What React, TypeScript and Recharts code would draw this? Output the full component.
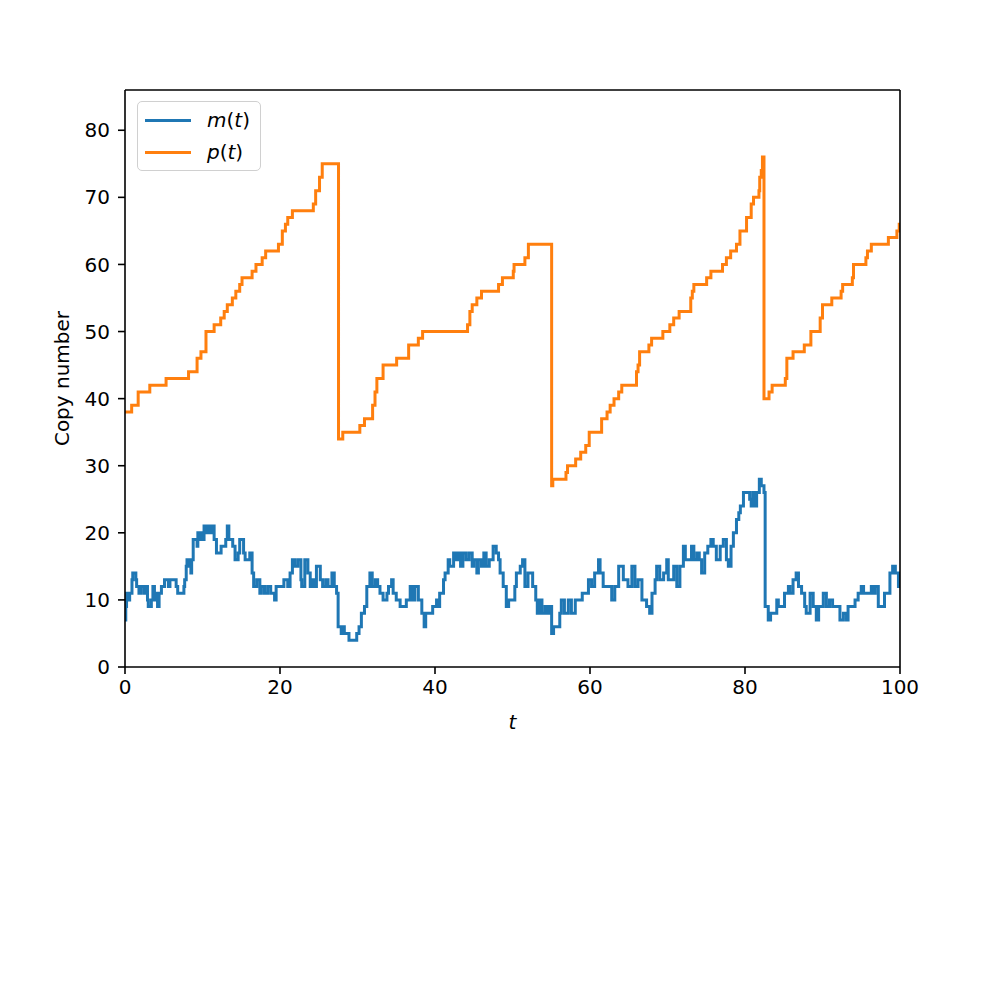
import React from "react"
import { Legend, Line, LineChart, ReferenceLine, XAxis, YAxis } from "recharts"

const BLUE = "#1f77b4"
const ORANGE = "#ff7f0e"
const FONT = "DejaVu Sans, sans-serif"

const xTicks = [0, 20, 40, 60, 80, 100]
const yTicks = [0, 10, 20, 30, 40, 50, 60, 70, 80]

// p(t): protein copy number
const pTimes = [
  0, 0.86, 1.7, 3.2, 5.3, 8.2, 9.3, 9.8, 10.45, 11.5, 12.35, 12.8, 13.2, 13.85, 14.3, 14.8, 15.1, 16.4, 16.9,
  17.7, 18.15, 19.8, 20.3, 20.7, 21.0, 21.6, 24.3, 24.6, 25.1, 25.45, 27.55, 28.1, 30.3, 30.9, 31.95, 32.26,
  32.5, 33.3, 35.05, 36.6, 37.85, 38.4, 44.2, 44.5, 44.8, 45.4, 46.0, 48.2, 48.7, 50.1, 50.2, 51.6, 52.05,
  55.05, 55.2, 56.9, 57.1, 58.15, 58.8, 59.45, 59.9, 61.5, 62.2, 62.6, 63.1, 63.7, 64.1, 66.0, 66.2, 66.4,
  67.6, 67.95, 69.4, 70.3, 70.8, 71.5, 73.0, 73.2, 73.4, 75.05, 75.6, 77.1, 77.6, 78.15, 78.9, 79.35, 80.2,
  80.8, 81.1, 81.8, 81.9, 82.1, 82.25, 82.45, 83.1, 83.5, 85.2, 85.4, 86.2, 87.65, 88.5, 89.7, 90.0, 91.2,
  92.4, 92.6, 93.85, 94.0, 95.6, 95.8, 96.3, 98.5, 99.6, 99.9, 100,
]
const pValues = [
  38, 39, 41, 42, 43, 44, 46, 47, 50, 51, 52, 53, 54, 55, 56, 57, 58, 59, 60,
  61, 62, 63, 65, 66, 67, 68, 69, 71, 73, 75, 34, 35, 36, 37, 39, 41,
  43, 45, 46, 48, 49, 50, 51, 53, 54, 55, 56, 57, 58, 59, 60, 61, 63,
  27, 28, 29, 30, 31, 32, 33, 35, 37, 38, 39, 40, 41, 42, 44, 45, 47,
  48, 49, 50, 51, 52, 53, 55, 56, 57, 58, 59, 60, 61, 62, 63, 65, 67,
  69, 70, 71, 73, 74, 76, 40, 41, 42, 43, 46, 47, 48, 50, 52, 54, 55,
  56, 57, 58, 60, 61, 62, 63, 64, 65, 66, 66,
]

// m(t): mRNA copy number
const mTimes = [
  0, 0.1, 0.2, 0.4, 0.6, 0.9, 1.0, 1.4, 1.5, 1.8, 2.0, 2.4, 2.7, 2.9, 3.0, 3.4, 3.6, 3.8, 4.0, 4.2, 4.4, 4.7,
  5.1, 5.6, 5.8, 6.6, 6.8, 7.6, 7.7, 7.9, 8.0, 8.3, 8.5, 8.6, 8.8, 9.3, 9.4, 9.6, 9.8, 10.0, 10.2, 10.5, 10.7,
  11.0, 11.2, 11.5, 11.8, 12.4, 13.0, 13.2, 13.4, 13.9, 14.2, 14.6, 14.8, 15.3, 15.5, 16.1, 16.4, 16.6, 17.0,
  17.4, 17.6, 18.0, 18.4, 18.8, 19.3, 19.5, 20.5, 21.0, 21.3, 21.6, 21.9, 22.3, 22.7, 22.8, 23.2, 23.6, 23.9,
  24.2, 24.5, 24.7, 25.2, 25.5, 25.9, 26.2, 26.7, 27.0, 27.3, 27.5, 27.9, 28.1, 28.3, 28.9, 29.9, 30.2, 30.5,
  30.9, 31.2, 31.6, 31.9, 32.3, 32.6, 32.9, 33.3, 33.8, 34.0, 34.4, 34.6, 35.0, 35.5, 36.3, 36.8, 37.1, 37.4,
  37.85, 38.3, 38.6, 38.8, 39.7, 40.2, 40.4, 40.6, 41.1, 41.3, 41.7, 41.9, 42.4, 42.7, 43.0, 43.3, 43.6, 44.0,
  44.4, 44.8, 45.0, 45.4, 45.6, 46.0, 46.3, 46.6, 47.0, 47.5, 47.9, 48.2, 48.4, 48.8, 49.2, 49.5, 50.3, 50.5,
  51.0, 51.3, 51.6, 52.0, 52.6, 53.0, 53.2, 53.5, 53.8, 54.2, 54.5, 54.8, 55.05, 55.3, 56.1, 56.3, 56.7, 57.2,
  57.6, 58.1, 59.0, 59.8, 60.2, 60.6, 61.1, 61.3, 61.7, 62.8, 63.2, 63.7, 64.3, 64.9, 65.4, 65.8, 66.2, 66.7,
  67.3, 67.7, 68.0, 68.4, 68.6, 69.0, 69.5, 69.9, 70.1, 70.8, 71.2, 71.6, 72.05, 72.3, 73.1, 73.4, 73.8, 74.1,
  74.4, 74.8, 75.2, 75.6, 75.9, 76.3, 76.8, 77.2, 77.6, 77.85, 78.2, 78.5, 78.9, 79.2, 79.4, 79.8, 80.6, 80.8,
  81.0, 81.2, 81.5, 81.85, 82.1, 82.45, 82.6, 83.0, 83.3, 84.1, 84.3, 85.1, 85.6, 85.8, 86.2, 86.6, 86.9, 87.3,
  87.7, 87.9, 88.4, 88.8, 89.2, 89.5, 90.1, 90.5, 90.9, 91.3, 92.25, 92.7, 93.1, 93.3, 94.2, 94.6, 95.0, 95.3,
  96.3, 96.5, 96.8, 97.2, 98.0, 98.7, 99.05, 99.4, 99.8, 100,
]
const mValues = [
  7, 9, 11, 10, 11, 13, 14, 13, 12, 11, 12, 11, 12, 10, 9, 10, 12, 10, 11, 9, 11, 12,
  13, 12, 13, 12, 11, 12, 13, 15, 16, 15, 14, 16, 19, 18, 20, 19, 20, 19, 21, 20, 21,
  20, 21, 19, 17, 18, 19, 21, 19, 18, 16, 17, 19, 17, 16, 17, 14, 12, 13,
  11, 12, 11, 12, 11, 10, 12, 13, 12, 14, 16, 15, 16, 13, 12, 16, 14, 12,
  13, 12, 15, 13, 12, 13, 12, 14, 12, 11, 6, 5, 6, 5, 4, 5, 6, 8,
  9, 12, 14, 12, 13, 12, 11, 10, 11, 12, 13, 11, 10, 9, 10, 12, 10, 12,
  10, 8, 6, 8, 9, 10, 9, 11, 13, 14, 16, 15, 17, 16, 17, 15, 17, 16,
  17, 15, 16, 14, 16, 15, 17, 15, 16, 18, 17, 16, 14, 12, 9, 10, 12, 14,
  15, 16, 12, 14, 12, 10, 8, 10, 8, 9, 8, 9, 5, 6, 8, 10, 8, 10,
  8, 10, 11, 13, 12, 14, 16, 14, 12, 10, 12, 15, 13, 12, 15, 12, 13, 10,
  9, 8, 11, 13, 15, 13, 14, 16, 13, 15, 12, 15, 18, 16, 18, 16, 17, 16,
  14, 17, 18, 19, 18, 16, 18, 19, 16, 15, 18, 20, 22, 23, 24, 26, 25, 24,
  26, 24, 26, 28, 27, 26, 9, 7, 8, 10, 9, 11, 12, 11, 13, 14, 12, 11,
  9, 8, 11, 9, 7, 9, 11, 9, 10, 9, 7, 8, 7, 9, 10, 11, 12, 11,
  12, 11, 12, 9, 11, 14, 15, 14, 12, 12,
]

const mData = mTimes.map((t, i) => ({ t, v: mValues[i] }))
const pData = pTimes.map((t, i) => ({ t, v: pValues[i] }))

const axisStroke = { stroke: "#000", strokeWidth: 1.6 }
const tickFont = { fill: "#000", fontSize: 20, fontFamily: FONT }

function LegendBox() {
  const row = (color: string, name: string) => (
    <div style={{ display: "flex", alignItems: "center", height: 32 }}>
      <div style={{ width: 46, height: 3, background: color, marginLeft: 7, marginRight: 16 }} />
      <span style={{ fontFamily: FONT, fontSize: 20, color: "#000", lineHeight: "20px" }}>
        <i>{name}</i>(<i>t</i>)
      </span>
    </div>
  )
  return (
    <div
      style={{
        width: 124,
        height: 70,
        boxSizing: "border-box",
        border: "1.5px solid #d0d0d0",
        borderRadius: 5,
        background: "rgba(255,255,255,0.8)",
        paddingTop: 2,
      }}
    >
      {row(BLUE, "m")}
      {row(ORANGE, "p")}
    </div>
  )
}

export default function App() {
  return (
    <div style={{ position: "absolute", left: 0, top: 0, width: 1000, height: 1000, background: "#fff" }}>
      <LineChart width={1000} height={1000} margin={{ top: 90, right: 100, left: 65, bottom: 273 }}>
        <XAxis
          dataKey="t"
          type="number"
          domain={[0, 100]}
          ticks={xTicks}
          allowDataOverflow
          height={60}
          axisLine={axisStroke}
          tickLine={axisStroke}
          tickSize={7}
          tickMargin={6}
          tick={tickFont}
          label={{
            content: () => (
              <text x={512.5} y={729} textAnchor="middle" fontFamily={FONT} fontSize={20} fontStyle="italic" fill="#000">
                t
              </text>
            ),
          }}
        />
        <YAxis
          type="number"
          domain={[0, 86]}
          ticks={yTicks}
          allowDataOverflow
          width={60}
          axisLine={axisStroke}
          tickLine={axisStroke}
          tickSize={7}
          tickMargin={8}
          tick={tickFont}
          label={{
            content: () => (
              <text
                x={69}
                y={378.5}
                transform="rotate(-90 69 378.5)"
                textAnchor="middle"
                fontFamily={FONT}
                fontSize={20}
                fill="#000"
              >
                Copy number
              </text>
            ),
          }}
        />
        <Line
          data={mData}
          dataKey="v"
          name="m(t)"
          type="stepAfter"
          stroke={BLUE}
          strokeWidth={3}
          dot={false}
          isAnimationActive={false}
        />
        <Line
          data={pData}
          dataKey="v"
          name="p(t)"
          type="stepAfter"
          stroke={ORANGE}
          strokeWidth={3}
          dot={false}
          isAnimationActive={false}
        />
        {/* top and right spines */}
        <ReferenceLine y={86} stroke="#000" strokeWidth={1.6} ifOverflow="extendDomain" />
        <ReferenceLine x={100} stroke="#000" strokeWidth={1.6} ifOverflow="extendDomain" />
        <Legend
          layout="vertical"
          align="center"
          verticalAlign="middle"
          content={() => <LegendBox />}
          wrapperStyle={{ position: "absolute", left: 137, top: 101, width: 124 }}
        />
      </LineChart>
    </div>
  )
}
